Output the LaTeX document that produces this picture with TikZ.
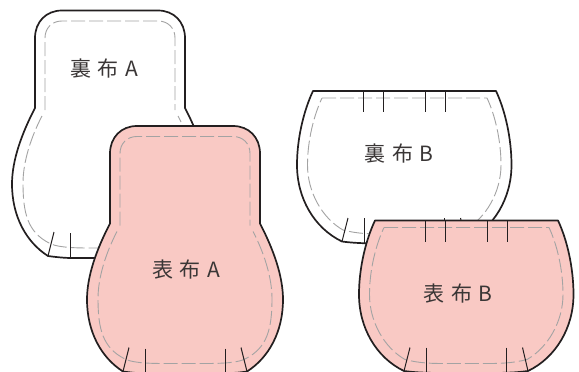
\documentclass[tikz,border=0pt]{standalone}
\usepackage{fontspec}
\setmainfont{Noto Sans CJK JP}
\definecolor{ink}{HTML}{231F20}
\definecolor{pinkfill}{HTML}{F9C9C4}
\definecolor{stitch}{HTML}{A3A3A3}
\definecolor{labeltext}{HTML}{3A3636}
\tikzset{
  outline/.style={draw=ink,line width=1.7pt,line join=round},
  seam/.style={draw=stitch,line width=0.9pt,dash pattern=on 14pt off 4pt},
  notch/.style={draw=ink,line width=1pt},
  piecelabel/.style={text=labeltext,font=\fontsize{21}{23}\selectfont,inner sep=0pt,anchor=center}
}
\newcommand{\pieceA}[3]{%
  \begin{scope}[shift={(#1,#2)}]
    \path[outline,fill=#3] (62,10.5) -- (158,10.5)
      .. controls (174,10.5) and (185,22) .. (185,38) -- (185,108)
      .. controls (198,133) and (208,160) .. (208,184)
      .. controls (208,216) and (194,242) .. (172,256)
      .. controls (160,258) and (145,258) .. (130,258) -- (71,258)
      .. controls (65,258) and (55,257) .. (48,256)
      .. controls (26,242) and (12,216) .. (12,184)
      .. controls (12,160) and (22,133) .. (35,108) -- (35,38)
      .. controls (35,22) and (46,10.5) .. (62,10.5) -- cycle;
    \path[seam] (45,110) -- (45,38) .. controls (45,28) and (52,21) .. (62,21) -- (158,21)
      .. controls (168,21) and (175,28) .. (175,38) -- (175,110);
    \path[seam] (42,116) .. controls (31,137) and (23,162) .. (23,183)
      .. controls (23,214) and (28,232) .. (49,243)
      .. controls (56,247) and (70,248) .. (90,248) -- (130,248)
      .. controls (150,248) and (164,247) .. (171,243)
      .. controls (192,232) and (197,214) .. (197,183)
      .. controls (197,162) and (189,137) .. (178,116);
    \path[notch] (54,232) -- (48,256);
    \path[notch] (70.5,233) -- (70.5,258);
    \path[notch] (150,233) -- (150,258);
    \path[notch] (166,232) -- (172,256);
  \end{scope}}
\newcommand{\pieceB}[3]{%
  \begin{scope}[shift={(#1,#2)}]
    \path[outline,fill=#3] (313,91) -- (496,91)
      .. controls (505,110) and (511.5,138) .. (511.5,165)
      .. controls (511.5,198) and (494,228) .. (466,241.5)
      .. controls (455,243) and (445,243.5) .. (425,243.5) -- (384,243.5)
      .. controls (365,243.5) and (353,243) .. (342,241.5)
      .. controls (314,228) and (297,198) .. (297,165)
      .. controls (297,138) and (304,110) .. (313,91) -- cycle;
    \path[seam] (322,98) -- (487,98)
      .. controls (495,115) and (501,140) .. (501,165)
      .. controls (501,192) and (486,218) .. (465,230)
      .. controls (450,234) and (435,234) .. (425,234) -- (384,234)
      .. controls (372,234) and (358,234) .. (343,230)
      .. controls (322,218) and (307.5,192) .. (307.5,165)
      .. controls (307.5,140) and (314,115) .. (322,98);
    \foreach \nx in {363,383.3,425.3,445.5}{\path[notch] (\nx,91) -- (\nx,112);}
    \path[notch] (348,218) -- (342,241.5);
    \path[notch] (364.5,218) -- (364.5,243.5);
    \path[notch] (444,218) -- (444,243.5);
    \path[notch] (460.5,218) -- (466,241.5);
  \end{scope}}
\begin{document}
\begin{tikzpicture}[x=1pt,y=-1pt]
  \useasboundingbox (0,0) rectangle (579,372);
  \pieceA{0}{0}{white}
  \pieceB{0}{0}{white}
  \pieceA{75}{115.5}{pinkfill}
  \pieceB{62}{129.5}{pinkfill}
  \node[piecelabel] (liningA) at (104,69) {裏\hspace{6.5pt}布\hspace{6.5pt}A};
  \node[piecelabel] (liningB) at (399,154) {裏\hspace{6.5pt}布\hspace{6.5pt}B};
  \node[piecelabel] (outerA) at (186,270) {表\hspace{6.5pt}布\hspace{6.5pt}A};
  \node[piecelabel] (outerB) at (458,294) {表\hspace{6.5pt}布\hspace{6.5pt}B};
\end{tikzpicture}
\end{document}
